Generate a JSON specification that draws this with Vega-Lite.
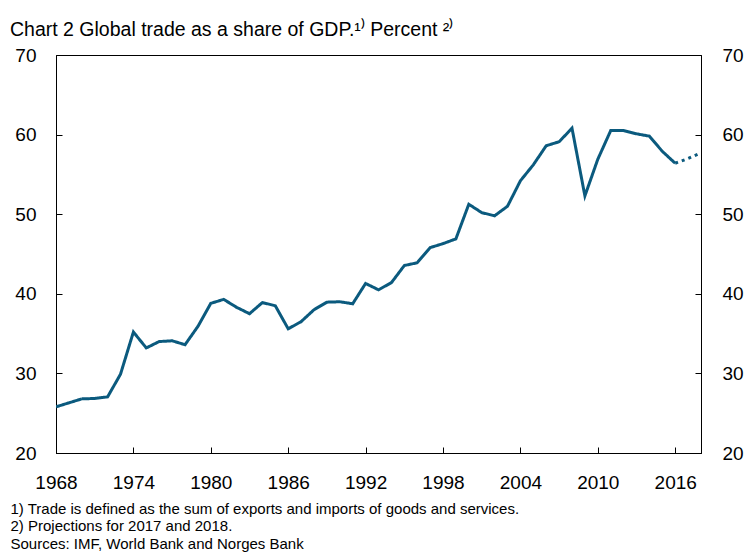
{
  "$schema": "https://vega.github.io/schema/vega-lite/v6.json",
  "width": 645,
  "height": 398,
  "autosize": {"type": "none"},
  "padding": {"left": 56, "top": 55, "right": 46, "bottom": 100},
  "background": "white",
  "title": {
    "text": "Chart 2 Global trade as a share of GDP.¹⁾ Percent ²⁾",
    "anchor": "start",
    "frame": "group",
    "dx": -46,
    "offset": 6,
    "font": "Liberation Sans",
    "fontSize": 19.5,
    "fontWeight": "normal",
    "color": "black"
  },
  "config": {
    "view": {"stroke": "black", "strokeWidth": 1},
    "axis": {
      "grid": false,
      "labelFont": "Liberation Sans",
      "labelFontSize": 19,
      "labelColor": "black",
      "tickColor": "black",
      "domainColor": "black",
      "tickSize": -6,
      "titleFont": "Liberation Sans",
      "titleColor": "black"
    }
  },
  "data": {
    "values": [
      {"year": 1968, "value": 25.8, "series": "actual"},
      {"year": 1969, "value": 26.3, "series": "actual"},
      {"year": 1970, "value": 26.8, "series": "actual"},
      {"year": 1971, "value": 26.85, "series": "actual"},
      {"year": 1972, "value": 27.05, "series": "actual"},
      {"year": 1973, "value": 29.9, "series": "actual"},
      {"year": 1974, "value": 35.2, "series": "actual"},
      {"year": 1975, "value": 33.2, "series": "actual"},
      {"year": 1976, "value": 34.0, "series": "actual"},
      {"year": 1977, "value": 34.1, "series": "actual"},
      {"year": 1978, "value": 33.6, "series": "actual"},
      {"year": 1979, "value": 35.9, "series": "actual"},
      {"year": 1980, "value": 38.8, "series": "actual"},
      {"year": 1981, "value": 39.3, "series": "actual"},
      {"year": 1982, "value": 38.3, "series": "actual"},
      {"year": 1983, "value": 37.5, "series": "actual"},
      {"year": 1984, "value": 38.9, "series": "actual"},
      {"year": 1985, "value": 38.5, "series": "actual"},
      {"year": 1986, "value": 35.6, "series": "actual"},
      {"year": 1987, "value": 36.5, "series": "actual"},
      {"year": 1988, "value": 38.0, "series": "actual"},
      {"year": 1989, "value": 38.95, "series": "actual"},
      {"year": 1990, "value": 39.0, "series": "actual"},
      {"year": 1991, "value": 38.75, "series": "actual"},
      {"year": 1992, "value": 41.3, "series": "actual"},
      {"year": 1993, "value": 40.5, "series": "actual"},
      {"year": 1994, "value": 41.4, "series": "actual"},
      {"year": 1995, "value": 43.55, "series": "actual"},
      {"year": 1996, "value": 43.9, "series": "actual"},
      {"year": 1997, "value": 45.8, "series": "actual"},
      {"year": 1998, "value": 46.3, "series": "actual"},
      {"year": 1999, "value": 46.9, "series": "actual"},
      {"year": 2000, "value": 51.25, "series": "actual"},
      {"year": 2001, "value": 50.2, "series": "actual"},
      {"year": 2002, "value": 49.8, "series": "actual"},
      {"year": 2003, "value": 51.0, "series": "actual"},
      {"year": 2004, "value": 54.2, "series": "actual"},
      {"year": 2005, "value": 56.2, "series": "actual"},
      {"year": 2006, "value": 58.6, "series": "actual"},
      {"year": 2007, "value": 59.1, "series": "actual"},
      {"year": 2008, "value": 60.8, "series": "actual"},
      {"year": 2009, "value": 52.3, "series": "actual"},
      {"year": 2010, "value": 56.9, "series": "actual"},
      {"year": 2011, "value": 60.5, "series": "actual"},
      {"year": 2012, "value": 60.5, "series": "actual"},
      {"year": 2013, "value": 60.1, "series": "actual"},
      {"year": 2014, "value": 59.8, "series": "actual"},
      {"year": 2015, "value": 57.9, "series": "actual"},
      {"year": 2016, "value": 56.4, "series": "actual"},
      {"year": 2016, "value": 56.4, "series": "projection"},
      {"year": 2017, "value": 57.0, "series": "projection"},
      {"year": 2018, "value": 57.7, "series": "projection"}
    ]
  },
  "layer": [
    {
      "mark": {"type": "line", "color": "#0b5a7e", "strokeWidth": 3, "clip": true},
      "encoding": {
        "x": {
          "field": "year",
          "type": "quantitative",
          "scale": {"domain": [1968, 2018], "nice": false, "zero": false},
          "axis": {
            "values": [1968, 1974, 1980, 1986, 1992, 1998, 2004, 2010, 2016],
            "format": "d",
            "labelPadding": 26,
            "labelFlush": false,
            "title": [
              "1) Trade is defined as the sum of exports and imports of goods and services.",
              "2) Projections for 2017 and 2018.",
              "Sources: IMF, World Bank and Norges Bank"
            ],
            "titleAnchor": "start",
            "titleAlign": "left",
            "titleBaseline": "top",
            "titleX": -46,
            "titleY": 48,
            "titleFontSize": 15,
            "titleFontWeight": "normal",
            "titleLineHeight": 17.5
          }
        },
        "y": {
          "field": "value",
          "type": "quantitative",
          "scale": {"domain": [20, 70], "nice": false, "zero": false},
          "axis": {
            "orient": "left",
            "values": [20, 30, 40, 50, 60, 70],
            "labelPadding": 26,
            "labelFlush": false,
            "title": null
          }
        },
        "strokeDash": {
          "field": "series",
          "type": "nominal",
          "scale": {"domain": ["actual", "projection"], "range": [[1, 0], [3, 4]]},
          "legend": null
        }
      }
    },
    {
      "mark": {"type": "line", "opacity": 0},
      "encoding": {
        "x": {"field": "year", "type": "quantitative"},
        "y": {
          "field": "value",
          "type": "quantitative",
          "axis": {
            "orient": "right",
            "values": [20, 30, 40, 50, 60, 70],
            "labelPadding": 27,
            "labelFlush": false,
            "title": null
          }
        }
      }
    }
  ],
  "resolve": {"axis": {"y": "independent"}}
}
